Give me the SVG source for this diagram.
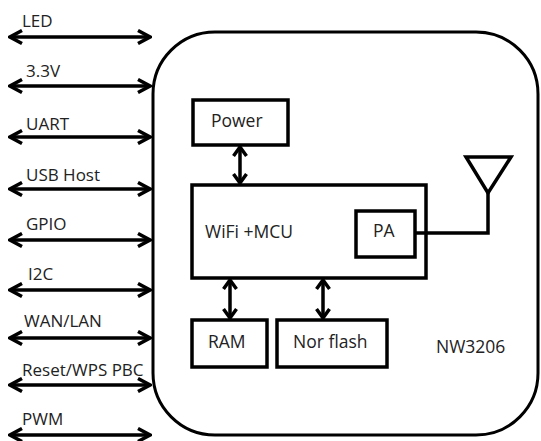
<svg xmlns="http://www.w3.org/2000/svg" width="541" height="441" viewBox="0 0 541 441">
<defs>
<marker id="ah" markerUnits="userSpaceOnUse" viewBox="0 0 16 16" markerWidth="16" markerHeight="16" refX="14" refY="8" orient="auto-start-reverse">
<path d="M2,1.5 L14,8 L2,14.5" fill="none" stroke="#000" stroke-width="3.5" stroke-linejoin="miter"/>
</marker>
<marker id="ahs" markerUnits="userSpaceOnUse" viewBox="0 0 16 16" markerWidth="16" markerHeight="16" refX="13" refY="8" orient="auto-start-reverse">
<path d="M4,1.5 L13,8 L4,14.5" fill="none" stroke="#000" stroke-width="3.5"/>
</marker>
</defs>
<style>
text{font-family:"Open Sans","Liberation Sans",Arial,sans-serif;font-size:17.5px;fill:#222}
.lab{font-size:17px}
.box{fill:#fff;stroke:#000;stroke-width:3.5}
.ln{fill:none;stroke:#000;stroke-width:3.5}
.io{stroke:#000;stroke-width:3.5;marker-start:url(#ah);marker-end:url(#ah)}
.in{stroke:#000;stroke-width:3.5;marker-start:url(#ahs);marker-end:url(#ahs)}
</style>
<rect width="541" height="441" fill="#fff"/>
<g id="module">
<rect x="153" y="32" width="385" height="403" rx="62" ry="62" fill="none" stroke="#000" stroke-width="3"/>
<text x="436" y="353">NW3206</text>
</g>
<g id="power"><rect class="box" x="193" y="100" width="95" height="45"/><text x="211" y="127">Power</text></g>
<g id="wifi"><rect class="box" x="192" y="185" width="234" height="93"/><text x="205" y="238">WiFi +MCU</text></g>
<g id="pa"><rect class="box" x="356" y="211" width="59" height="46"/><text x="373" y="237">PA</text></g>
<g id="ram"><rect class="box" x="192" y="320" width="75" height="47"/><text x="208" y="348">RAM</text></g>
<g id="norflash"><rect class="box" x="277" y="320" width="110" height="47"/><text x="293" y="348">Nor flash</text></g>
<g id="antenna"><path class="ln" d="M466,157 L511,157 L488,193 Z"/></g>
<g id="labels">
<text class="lab" x="22" y="27">LED</text>
<text class="lab" x="26" y="77">3.3V</text>
<text class="lab" x="26" y="130">UART</text>
<text class="lab" x="26" y="181">USB Host</text>
<text class="lab" x="26" y="230">GPIO</text>
<text class="lab" x="28" y="280">I2C</text>
<text class="lab" x="24" y="327">WAN/LAN</text>
<text class="lab" x="22" y="376">Reset/WPS PBC</text>
<text class="lab" x="22" y="425">PWM</text>
</g>
<g id="connectors">
<line class="io" x1="10" y1="37" x2="150" y2="37"/>
<line class="io" x1="10" y1="86" x2="150" y2="86"/>
<line class="io" x1="10" y1="137" x2="150" y2="137"/>
<line class="io" x1="10" y1="189" x2="150" y2="189"/>
<line class="io" x1="10" y1="240" x2="150" y2="240"/>
<line class="io" x1="10" y1="290" x2="150" y2="290"/>
<line class="io" x1="10" y1="338" x2="150" y2="338"/>
<line class="io" x1="10" y1="385" x2="150" y2="385"/>
<line class="io" x1="10" y1="435" x2="150" y2="435"/>
<line class="in" x1="240" y1="147" x2="240" y2="183"/>
<line class="in" x1="230" y1="280" x2="230" y2="318"/>
<line class="in" x1="323" y1="280" x2="323" y2="318"/>
<path class="ln" d="M415,233 L488,233 L488,192"/>
</g>
</svg>
